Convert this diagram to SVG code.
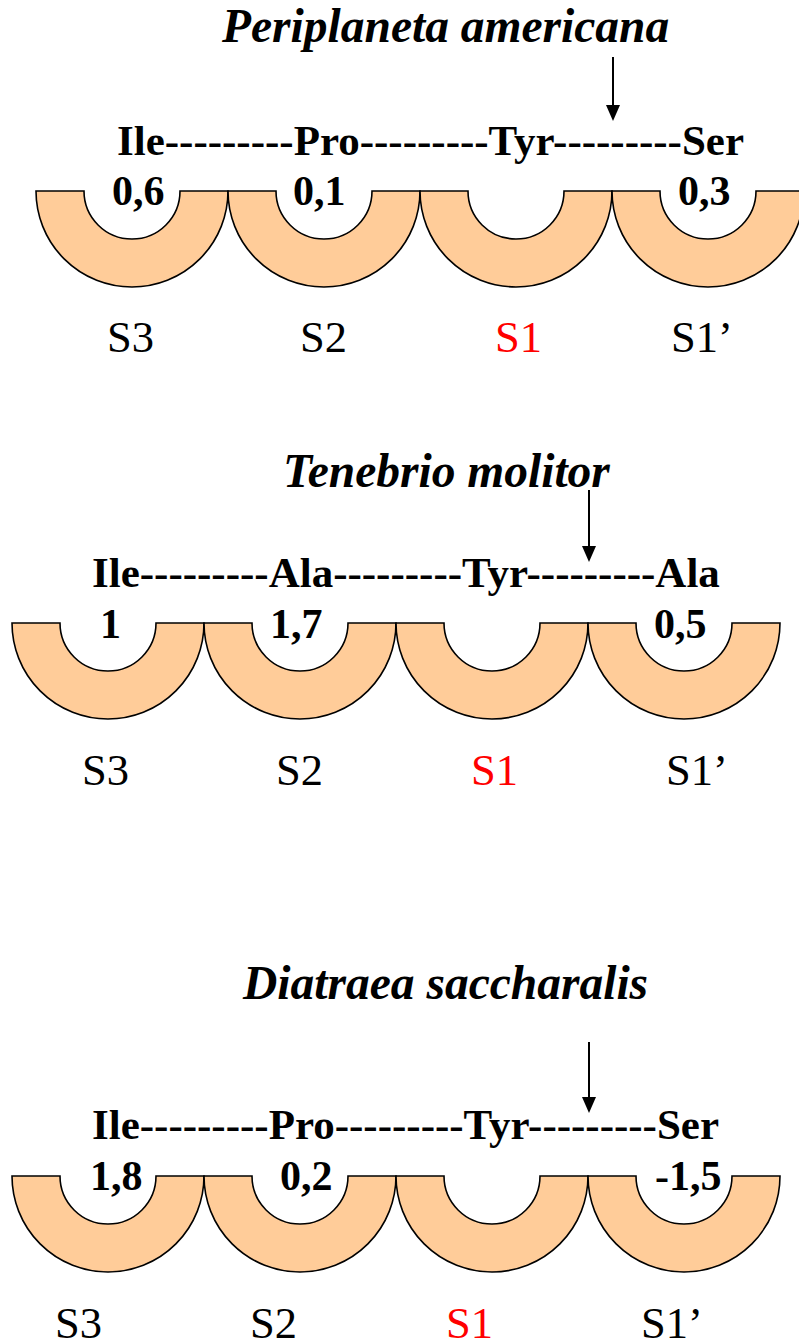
<svg xmlns="http://www.w3.org/2000/svg" width="799" height="1344" viewBox="0 0 799 1344">
  <style>
    .title { font-family: "Liberation Serif", "Times New Roman", serif; font-weight: bold; font-style: italic; font-size: 47.5px; fill: #000; }
    .pep { font-family: "Liberation Serif", "Times New Roman", serif; font-weight: bold; font-size: 43px; fill: #000; }
    .val { font-family: "Liberation Serif", "Times New Roman", serif; font-weight: bold; font-size: 42px; fill: #000; }
    .site { font-family: "Liberation Serif", "Times New Roman", serif; font-size: 44.5px; fill: #000; }
    .site.s1 { fill: #FF0000; }
    .pocket { fill: #FFCC99; stroke: #000; stroke-width: 1.6; }
    .cut { stroke: #000; stroke-width: 2; fill: none; }
  </style>
  <defs>
    <!-- half-ring subsite pocket, centred on the middle of its top edge -->
    <path id="pocket" class="pocket" d="M -96 0 H -48 A 48 48 0 0 0 48 0 H 96 A 96 96 0 0 1 -96 0 Z"/>
    <polygon id="head" points="-7,0 7,0 0,16" fill="#000"/>
  </defs>

  <rect width="799" height="1344" fill="#fff"/>

  <!-- Periplaneta americana -->
  <g id="panel-periplaneta">
    <g id="pockets-1">
      <use href="#pocket" x="132" y="191"/>
      <use href="#pocket" x="324" y="191"/>
      <use href="#pocket" x="516" y="191"/>
      <use href="#pocket" x="708" y="191"/>
    </g>
    <text class="title" x="222" y="42">Periplaneta americana</text>
    <text class="pep" x="117" y="155">Ile---------Pro---------Tyr---------Ser</text>
    <text class="val" x="112" y="205">0,6</text>
    <text class="val" x="293" y="205">0,1</text>
    <text class="val" x="678" y="205">0,3</text>
    <text class="site" x="107" y="352">S3</text>
    <text class="site" x="300" y="352">S2</text>
    <text class="site s1" x="495" y="352">S1</text>
    <text class="site" x="671" y="352">S1’</text>
  </g>

  <!-- Tenebrio molitor -->
  <g id="panel-tenebrio">
    <g id="pockets-2">
      <use href="#pocket" x="108" y="623"/>
      <use href="#pocket" x="300" y="623"/>
      <use href="#pocket" x="492" y="623"/>
      <use href="#pocket" x="684" y="623"/>
    </g>
    <text class="title" x="283" y="487">Tenebrio molitor</text>
    <text class="pep" x="92" y="587">Ile---------Ala---------Tyr---------Ala</text>
    <text class="val" x="100" y="638">1</text>
    <text class="val" x="270" y="638">1,7</text>
    <text class="val" x="654" y="638">0,5</text>
    <text class="site" x="82" y="785">S3</text>
    <text class="site" x="276" y="785">S2</text>
    <text class="site s1" x="471" y="785">S1</text>
    <text class="site" x="666" y="785">S1’</text>
  </g>

  <!-- Diatraea saccharalis -->
  <g id="panel-diatraea">
    <g id="pockets-3">
      <use href="#pocket" x="108" y="1176"/>
      <use href="#pocket" x="300" y="1176"/>
      <use href="#pocket" x="492" y="1176"/>
      <use href="#pocket" x="684" y="1176"/>
    </g>
    <text class="title" x="243" y="999">Diatraea saccharalis</text>
    <text class="pep" x="92" y="1139">Ile---------Pro---------Tyr---------Ser</text>
    <text class="val" x="90" y="1190">1,8</text>
    <text class="val" x="280" y="1190">0,2</text>
    <text class="val" x="655" y="1190">-1,5</text>
    <text class="site" x="55" y="1338">S3</text>
    <text class="site" x="250" y="1338">S2</text>
    <text class="site s1" x="446" y="1338">S1</text>
    <text class="site" x="641" y="1338">S1’</text>
  </g>

  <!-- cleavage-site arrows -->
  <g id="connectors">
    <line class="cut" x1="613" y1="57" x2="613" y2="106"/>
    <use href="#head" x="613" y="105"/>
    <line class="cut" x1="589" y1="490" x2="589" y2="547"/>
    <use href="#head" x="589" y="546"/>
    <line class="cut" x1="589" y1="1042" x2="589" y2="1098"/>
    <use href="#head" x="589" y="1097"/>
  </g>
</svg>
